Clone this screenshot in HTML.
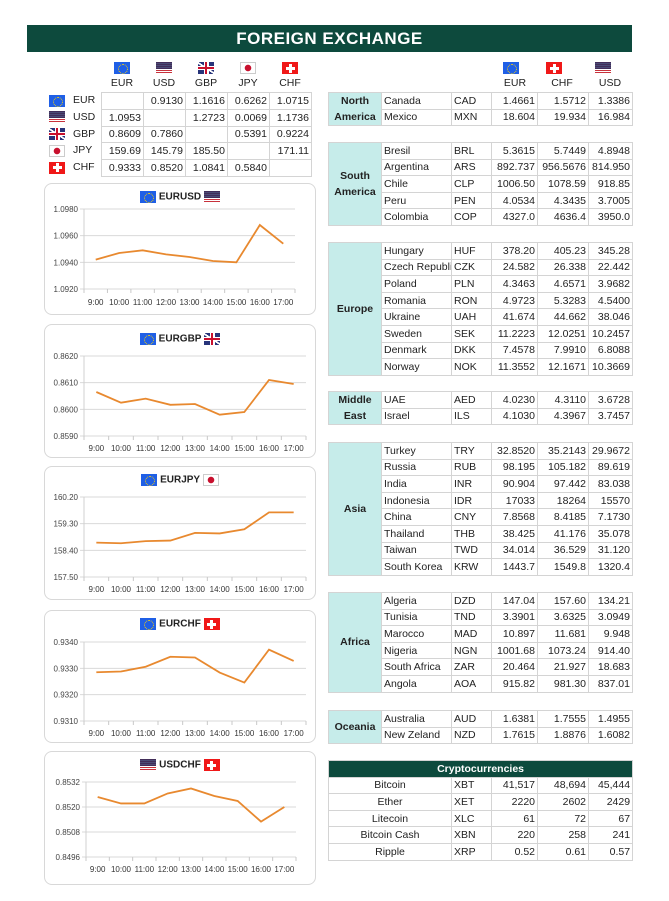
<!DOCTYPE html>
<html><head><meta charset="utf-8">
<style>
*{box-sizing:border-box;margin:0;padding:0}
body{width:669px;height:901px;background:#fff;position:relative;overflow:hidden;font-family:"Liberation Sans",sans-serif;color:#222}
.abs{position:absolute}
#title{left:27px;top:25px;width:605px;height:27px;background:#0d4a3d;color:#fff;font-weight:bold;font-size:17px;text-align:center;line-height:27px;letter-spacing:0.5px}
.flag{display:inline-block;width:16px;height:12px;vertical-align:middle;position:relative;overflow:hidden}
.f-eur{background:#1f5fe6}
.f-eur:after{content:"";position:absolute;left:4px;top:2px;width:8px;height:8px;border:1px dotted #ffd400;border-radius:50%}
.f-usd{background:repeating-linear-gradient(#c8323c 0 1px,#fff 1px 2px)}
.f-usd:after{content:"";position:absolute;left:0;top:0;width:16px;height:7px;background:#2a2d5e;opacity:.85}
.f-gbp{background:linear-gradient(#c8102e,#c8102e) center/16px 2px no-repeat,linear-gradient(#c8102e,#c8102e) center/2px 12px no-repeat,linear-gradient(#fff,#fff) center/16px 4px no-repeat,linear-gradient(#fff,#fff) center/5px 12px no-repeat,linear-gradient(33deg,#27347a 45%,#fff 45% 55%,#27347a 55%),#27347a}
.f-jpy{background:radial-gradient(circle,#c8102e 0 3px,#fff 3.5px);border:1px solid #ccc}
.f-chf{background:linear-gradient(#fff,#fff) center/9px 3px no-repeat,linear-gradient(#fff,#fff) center/3px 9px no-repeat,#f01818}
table{border-collapse:collapse;table-layout:fixed;font-size:10.5px}
td{border:1px solid #d4d4d4;height:16.6px;padding:0 2px;white-space:nowrap;overflow:hidden}
.num{text-align:right}
.reg{background:#c6ecea;font-weight:bold;text-align:center;white-space:normal;line-height:16px}
.hdr{font-size:10.5px;text-align:center;width:40px}
.card{border:1px solid #d8d8d8;border-radius:8px;background:#fff}
.crypto-h{background:#0d4a3d;color:#fff;font-weight:bold;text-align:center}
</style></head><body>
<div id="title" class="abs">FOREIGN EXCHANGE</div>
<div id="root"></div>
<script>
// ---------- data ----------
const crossCodes = ['EUR','USD','GBP','JPY','CHF'];
const crossValues = [
 ['', '0.9130','1.1616','0.6262','1.0715'],
 ['1.0953','','1.2723','0.0069','1.1736'],
 ['0.8609','0.7860','','0.5391','0.9224'],
 ['159.69','145.79','185.50','','171.11'],
 ['0.9333','0.8520','1.0841','0.5840','']
];
const hours = ['9:00','10:00','11:00','12:00','13:00','14:00','15:00','16:00','17:00'];
const eurusdValues = [1.0942,1.0947,1.0949,1.0946,1.0944,1.0941,1.0940,1.0968,1.0954];
const eurusdTicks = [1.0920,1.0940,1.0960,1.0980];
const eurgbpValues = [0.86065,0.86025,0.8604,0.86017,0.8602,0.8598,0.8599,0.8611,0.86095];
const eurgbpTicks = [0.8590,0.8600,0.8610,0.8620];
const eurjpyValues = [158.66,158.64,158.71,158.73,158.99,158.97,159.11,159.68,159.68];
const eurjpyTicks = [157.50,158.40,159.30,160.20];
const eurchfValues = [0.93285,0.93288,0.93306,0.93344,0.93341,0.93284,0.93246,0.93371,0.93328];
const eurchfTicks = [0.9310,0.9320,0.9330,0.9340];
const usdchfValues = [0.85248,0.85217,0.85217,0.85265,0.85289,0.85253,0.85229,0.85130,0.85200];
const usdchfTicks = [0.8496,0.8508,0.8520,0.8532];
const regions = [
 ['North America',[['Canada','CAD','1.4661','1.5712','1.3386'],['Mexico','MXN','18.604','19.934','16.984']]],
 ['South America',[['Bresil','BRL','5.3615','5.7449','4.8948'],['Argentina','ARS','892.737','956.5676','814.950'],['Chile','CLP','1006.50','1078.59','918.85'],['Peru','PEN','4.0534','4.3435','3.7005'],['Colombia','COP','4327.0','4636.4','3950.0']]],
 ['Europe',[['Hungary','HUF','378.20','405.23','345.28'],['Czech Republic','CZK','24.582','26.338','22.442'],['Poland','PLN','4.3463','4.6571','3.9682'],['Romania','RON','4.9723','5.3283','4.5400'],['Ukraine','UAH','41.674','44.662','38.046'],['Sweden','SEK','11.2223','12.0251','10.2457'],['Denmark','DKK','7.4578','7.9910','6.8088'],['Norway','NOK','11.3552','12.1671','10.3669']]],
 ['Middle East',[['UAE','AED','4.0230','4.3110','3.6728'],['Israel','ILS','4.1030','4.3967','3.7457']]],
 ['Asia',[['Turkey','TRY','32.8520','35.2143','29.9672'],['Russia','RUB','98.195','105.182','89.619'],['India','INR','90.904','97.442','83.038'],['Indonesia','IDR','17033','18264','15570'],['China','CNY','7.8568','8.4185','7.1730'],['Thailand','THB','38.425','41.176','35.078'],['Taiwan','TWD','34.014','36.529','31.120'],['South Korea','KRW','1443.7','1549.8','1320.4']]],
 ['Africa',[['Algeria','DZD','147.04','157.60','134.21'],['Tunisia','TND','3.3901','3.6325','3.0949'],['Marocco','MAD','10.897','11.681','9.948'],['Nigeria','NGN','1001.68','1073.24','914.40'],['South Africa','ZAR','20.464','21.927','18.683'],['Angola','AOA','915.82','981.30','837.01']]],
 ['Oceania',[['Australia','AUD','1.6381','1.7555','1.4955'],['New Zeland','NZD','1.7615','1.8876','1.6082']]]
];
const cryptoRows = [['Bitcoin','XBT','41,517','48,694','45,444'],['Ether','XET','2220','2602','2429'],['Litecoin','XLC','61','72','67'],['Bitcoin Cash','XBN','220','258','241'],['Ripple','XRP','0.52','0.61','0.57']];

const root = document.getElementById('root');
function mk(tag, cls, parent){const e=document.createElement(tag); if(cls) e.className=cls; (parent||root).appendChild(e); return e;}
function flag(code, parent, x, y){
  const f = mk('span','flag f-'+code.toLowerCase(), parent);
  
  
  if(x!==undefined){f.style.position='absolute';f.style.left=x+'px';f.style.top=y+'px';}
  return f;
}
function label(text, x, y, w, align, name){
  const d = mk('div','abs');
  d.textContent=text; d.style.left=x+'px'; d.style.top=y+'px'; d.style.width=w+'px'; d.style.textAlign=align; d.style.fontSize='10.5px';
  
  
  return d;
}

// ---------- cross table ----------
crossCodes.forEach((c,i)=>{
  const cx = 122 + i*42;
  flag(c, root, cx-8, 62);
  label(c, cx-20, 77, 40, 'center', 'column-header-'+c.toLowerCase());
  const ry = 92 + i*16.8;
  flag(c, root, 49, ry+2.5);
  label(c, 73, ry+2, 30, 'left', 'row-header-'+c.toLowerCase());
});
const ct = mk('table');
ct.style.position='absolute'; ct.style.left='101px'; ct.style.top='92px'; ct.style.width='210px';


crossValues.forEach(r=>{
  const tr = mk('tr','',ct);
  r.forEach(v=>{const td=mk('td','num',tr); td.textContent=v; td.style.width='42px'; td.style.height='16.8px';});
});

// ---------- charts ----------
const charts = [
 {a:'EUR',b:'USD',name:'EURUSD',vals:eurusdValues,ticks:eurusdTicks,dec:4,top:183,h:132,title:13,pt:209,pb:289,x0:84,x1:295,lab:302},
 {a:'EUR',b:'GBP',name:'EURGBP',vals:eurgbpValues,ticks:eurgbpTicks,dec:4,top:324,h:134,title:14,pt:356,pb:436,x0:84,x1:306,lab:448},
 {a:'EUR',b:'JPY',name:'EURJPY',vals:eurjpyValues,ticks:eurjpyTicks,dec:2,top:466,h:134,title:13,pt:497,pb:577,x0:84,x1:306,lab:589},
 {a:'EUR',b:'CHF',name:'EURCHF',vals:eurchfValues,ticks:eurchfTicks,dec:4,top:610,h:133,title:13,pt:642,pb:721,x0:84,x1:306,lab:733},
 {a:'USD',b:'CHF',name:'USDCHF',vals:usdchfValues,ticks:usdchfTicks,dec:4,top:751,h:134,title:13,pt:782,pb:857,x0:86,x1:296,lab:869}
];
const NS='http://www.w3.org/2000/svg';
function sv(tag, attrs, parent){const e=document.createElementNS(NS,tag); for(const k in attrs) e.setAttribute(k,attrs[k]); parent.appendChild(e); return e;}
charts.forEach(c=>{
  const card = mk('div','abs card');
  card.style.left='44px'; card.style.top=c.top+'px'; card.style.width='272px'; card.style.height=c.h+'px';
  
  
  const t = mk('div','abs',card);
  t.style.left='0'; t.style.width='270px'; t.style.top=(c.title-6)+'px'; t.style.textAlign='center'; t.style.fontSize='10px'; t.style.fontWeight='bold'; t.style.lineHeight='12px';
  
  
  flag(c.a,t); const s=mk('span','',t); s.textContent=' '+c.name+' '; flag(c.b,t);
  const svg = document.createElementNS(NS,'svg');
  svg.setAttribute('width','669'); svg.setAttribute('height','901');
  svg.style.position='absolute'; svg.style.left='0'; svg.style.top='0';
  
  
  root.appendChild(svg);
  const lo=c.ticks[0], hi=c.ticks[c.ticks.length-1];
  const y = v => c.pb - (v-lo)/(hi-lo)*(c.pb-c.pt);
  const bw = (c.x1-c.x0)/hours.length;
  const x = i => c.x0 + (i+0.5)*bw;
  c.ticks.forEach(tv=>{
    const g = sv('line',{x1:c.x0-4,x2:c.x1,y1:y(tv),y2:y(tv),stroke:'#d9d9d9','stroke-width':1},svg);
    
    const tl = sv('text',{x:c.x0-6,y:y(tv)+3,'text-anchor':'end','font-size':'8','font-family':'Liberation Sans, sans-serif',fill:'#444'},svg);
    tl.textContent = tv.toFixed(c.dec);
    
  });
  sv('line',{x1:c.x0,x2:c.x0,y1:c.pt,y2:c.pb+4,stroke:'#d0d0d0'},svg);
  for(let i=0;i<=hours.length;i++){
    const tk = sv('line',{x1:c.x0+i*bw,x2:c.x0+i*bw,y1:c.pb,y2:c.pb+4,stroke:'#c8c8c8'},svg);
    
  }
  hours.forEach((h,i)=>{
    const tl = sv('text',{x:x(i),y:c.lab+3,'text-anchor':'middle','font-size':'8','font-family':'Liberation Sans, sans-serif',fill:'#333'},svg);
    tl.textContent=h;
    
  });
  const line = sv('polyline',{points:c.vals.map((v,i)=>x(i)+','+y(v)).join(' '),fill:'none',stroke:'#e8892f','stroke-width':1.8},svg);
  
  
});

// ---------- right tables ----------
const colW=[53,70,40,46,51,44];
[['EUR',511,515],['CHF',554,562],['USD',603,610]].forEach(([c,fx,lx])=>{
  flag(c, root, fx-8, 62);
  label(c, lx-20, 77, 40, 'center', 'rate-header-'+c.toLowerCase());
});
const tops=[92,142,242,391,442,592,710];
function makeTable(top, name){
  const t = mk('table');
  t.style.position='absolute'; t.style.left='328px'; t.style.top=top+'px'; t.style.width='304px';
  
  
  const cg = mk('colgroup','',t);
  colW.forEach(w=>{const c=mk('col','',cg); c.style.width=w+'px';});
  return t;
}
regions.forEach(([reg,rows],ri)=>{
  const t = makeTable(tops[ri], reg.toLowerCase().replace(' ','-')+'-table');
  rows.forEach((r,i)=>{
    const tr = mk('tr','',t);
    if(i===0){const rc=mk('td','reg',tr); rc.rowSpan=rows.length; rc.textContent=reg;}
    r.forEach((v,j)=>{const td=mk('td',j>=2?'num':'',tr); td.textContent=v;});
  });
});
const crt = makeTable(760,'cryptocurrencies-table');
const hr = mk('tr','',crt); const hd=mk('td','crypto-h',hr); hd.colSpan=6; hd.textContent='Cryptocurrencies';
cryptoRows.forEach(r=>{
  const tr=mk('tr','',crt);
  const n=mk('td','',tr); n.colSpan=2; n.style.textAlign='center'; n.textContent=r[0];
  r.slice(1).forEach((v,j)=>{const td=mk('td',j>=1?'num':'',tr); td.textContent=v;});
});
</script>
</body></html>
